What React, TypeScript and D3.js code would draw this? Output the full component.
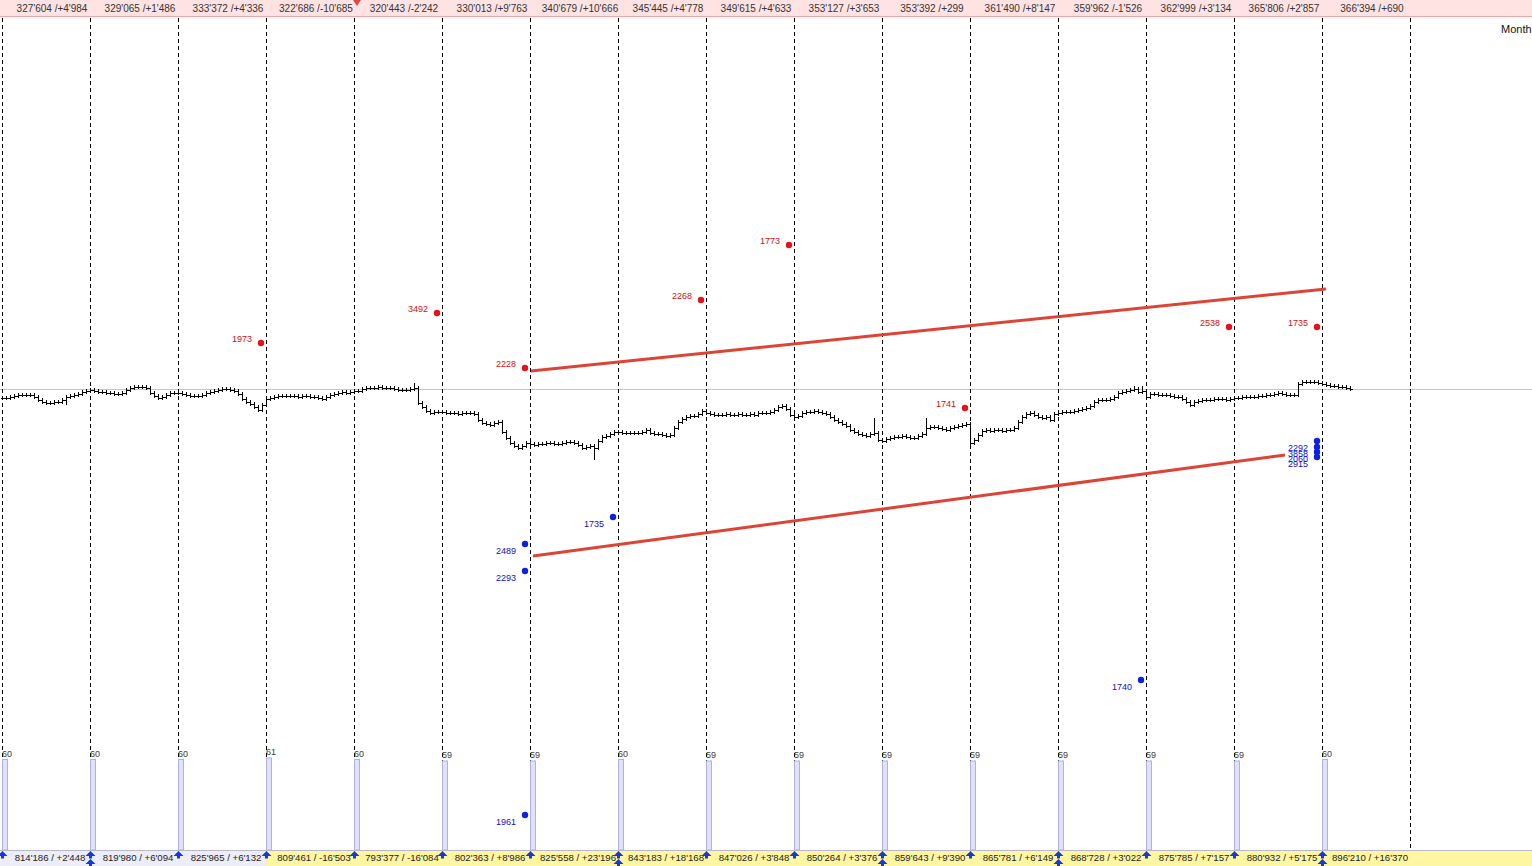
import React from "react";
import * as d3 from "d3";

const W = 1532;
const H = 866;

// Monthly header (top) labels
const topLabels = [
  "327'604 /+4'984", "329'065 /+1'486", "333'372 /+4'336", "322'686 /-10'685",
  "320'443 /-2'242", "330'013 /+9'763", "340'679 /+10'666", "345'445 /+4'778",
  "349'615 /+4'633", "353'127 /+3'653", "353'392 /+299", "361'490 /+8'147",
  "359'962 /-1'526", "362'999 /+3'134", "365'806 /+2'857", "366'394 /+690",
];

// Monthly footer (bottom) labels
const bottomLabels = [
  "814'186 / +2'448", "819'980 / +6'094", "825'965 / +6'132", "809'461 / -16'503",
  "793'377 / -16'084", "802'363 / +8'986", "825'558 / +23'196", "843'183 / +18'168",
  "847'026 / +3'848", "850'264 / +3'376", "859'643 / +9'390", "865'781 / +6'149",
  "868'728 / +3'022", "875'785 / +7'157", "880'932 / +5'175", "896'210 / +16'370",
];
// footer background: first months neutral, rest highlighted
const bottomHighlight = [false, false, false, true, true, true, true, true, true, true, true, true, true, true, true, true];
// double arrows in footer per month boundary
const doubleArrow = [false, true, false, false, false, false, false, true, false, false, true, false, true, false, false, true];

// Monthly counts at each month start
const monthCounts = [60, 60, 60, 61, 60, 59, 59, 60, 59, 59, 59, 59, 59, 59, 59, 60];

// Daily closes, per month (22 sessions each)
const closesM00 = [491, 491, 492, 493, 494, 494, 494, 494, 492, 489, 487, 486, 486, 487, 487, 489, 492, 493, 494, 495, 497, 498];
const closesM01 = [499, 498, 497, 497, 496, 496, 495, 495, 496, 499, 501, 502, 502, 502, 501, 496, 493, 491, 492, 494, 496, 496];
const closesM02 = [496, 495, 494, 493, 493, 493, 494, 496, 497, 498, 499, 500, 500, 499, 498, 495, 490, 487, 485, 482, 479, 484];
const closesM03 = [490, 491, 492, 493, 493, 493, 493, 493, 492, 493, 493, 492, 492, 491, 490, 492, 494, 495, 496, 497, 496, 497];
const closesM04 = [498, 498, 500, 501, 501, 501, 502, 501, 501, 501, 500, 499, 499, 499, 500, 501, 486, 482, 478, 476, 477, 477];
const closesM05 = [477, 476, 476, 476, 475, 476, 476, 476, 475, 469, 466, 465, 464, 466, 467, 457, 451, 446, 443, 441, 443, 446];
const closesM06 = [445, 444, 445, 445, 446, 446, 445, 445, 446, 447, 447, 446, 444, 441, 442, 443, 441, 448, 452, 453, 455, 457];
const closesM07 = [457, 456, 456, 456, 456, 456, 457, 459, 456, 455, 455, 454, 453, 454, 461, 467, 470, 472, 473, 473, 475, 478];
const closesM08 = [476, 475, 474, 474, 474, 475, 474, 474, 475, 474, 474, 475, 474, 476, 476, 476, 477, 479, 482, 483, 480, 474];
const closesM09 = [472, 473, 476, 477, 477, 478, 477, 476, 475, 472, 469, 467, 465, 463, 459, 457, 455, 454, 453, 455, 456, 449];
const closesM10 = [448, 450, 451, 452, 452, 453, 452, 451, 451, 453, 455, 461, 462, 462, 461, 460, 459, 461, 462, 463, 464, 465];
const closesM11 = [446, 449, 454, 458, 459, 458, 459, 459, 458, 459, 459, 461, 467, 472, 475, 476, 474, 472, 471, 472, 469, 475];
const closesM12 = [476, 477, 477, 477, 478, 479, 480, 481, 483, 487, 489, 489, 489, 490, 492, 496, 497, 498, 499, 500, 497, 498];
const closesM13 = [492, 495, 495, 494, 494, 494, 493, 492, 492, 490, 487, 484, 487, 488, 489, 489, 489, 490, 490, 490, 489, 490];
const closesM14 = [491, 491, 492, 492, 492, 492, 493, 493, 494, 494, 495, 496, 495, 494, 494, 494, 505, 507, 507, 507, 507, 506];
const closesM15 = [505, 504, 503, 503, 502, 502, 501, 500];

const closes = [
  ...closesM00, ...closesM01, ...closesM02, ...closesM03, ...closesM04, ...closesM05,
  ...closesM06, ...closesM07, ...closesM08, ...closesM09, ...closesM10, ...closesM11,
  ...closesM12, ...closesM13, ...closesM14, ...closesM15,
];

// Wicks that extend beyond the open/close range
const spikeLows = [
  { t: 16, p: 484 }, { t: 148, p: 429 }, { t: 242, p: 443 },
];
const spikeHighs = [
  { t: 103, p: 506 }, { t: 218, p: 471 }, { t: 231, p: 471 }, { t: 283, p: 503 }, { t: 285, p: 503 },
];

const referenceLevel = 500;

// Marker dots: month index, level, count label
const redDots = [
  { month: 3, p: 546, label: "1973" },
  { month: 5, p: 576, label: "3492" },
  { month: 6, p: 521, label: "2228" },
  { month: 8, p: 589, label: "2268" },
  { month: 9, p: 644, label: "1773" },
  { month: 11, p: 481, label: "1741" },
  { month: 14, p: 562, label: "2538" },
  { month: 15, p: 562, label: "1735" },
];
const blueDots = [
  { month: 6, p: 345, label: "2489" },
  { month: 6, p: 318, label: "2293" },
  { month: 7, p: 372, label: "1735" },
  { month: 13, p: 209, label: "1740" },
  { month: 6, p: 74, label: "1961" },
  { month: 15, p: 448, label: "2292" },
  { month: 15, p: 442, label: "3858" },
  { month: 15, p: 437, label: "2060" },
  { month: 15, p: 432, label: "2915" },
];

// Trend lines (session index, level)
const trendUpper = [{ t: 132.25, p: 518 }, { t: 331, p: 600 }];
const trendLower = [{ t: 132.75, p: 333 }, { t: 320.75, p: 434 }];

const SESSIONS_PER_MONTH = 22;
const N_BOUNDARIES = 17;

export default function App() {
  const xScale = d3.scaleLinear().domain([0, SESSIONS_PER_MONTH * 16]).range([2, 1410]);
  const yScale = d3.scaleLinear().domain([23, 889]).range([866, 0]);
  const volScale = d3.scaleLinear().domain([0, 61]).range([850, 758]);

  const boundaries = d3.range(N_BOUNDARIES).map((k) => xScale(k * SESSIONS_PER_MONTH));

  // OHLC bars path
  const path = d3.path();
  const lowMap = new Map(spikeLows.map((d) => [d.t, d.p]));
  const highMap = new Map(spikeHighs.map((d) => [d.t, d.p]));
  closes.forEach((c, i) => {
    const o = i > 0 ? closes[i - 1] : c;
    let hi = Math.max(o, c) + 2;
    let lo = Math.min(o, c) - 2;
    if (highMap.has(i)) hi = Math.max(hi, highMap.get(i)!);
    if (lowMap.has(i)) lo = Math.min(lo, lowMap.get(i)!);
    const x = Math.round(xScale(i)) + 0.5;
    const yh = Math.round(yScale(hi));
    const yl = Math.round(yScale(lo));
    const yo = Math.round(yScale(o)) + 0.5;
    const yc = Math.round(yScale(c)) + 0.5;
    path.moveTo(x, yh);
    path.lineTo(x, yl);
    path.moveTo(x - 2, yo);
    path.lineTo(x, yo);
    path.moveTo(x, yc);
    path.lineTo(x + 2, yc);
  });

  const line = d3
    .line<{ t: number; p: number }>()
    .x((d) => xScale(d.t))
    .y((d) => yScale(d.p));

  const dotX = (m: number) => xScale(m * SESSIONS_PER_MONTH - 1.25);

  const arrow = (x: number, y: number, key: string) => (
    <path
      key={key}
      d={`M${x},${y} L${x + 5},${y + 5} L${x + 1.5},${y + 5} L${x + 1.5},${y + 7.5} L${x - 1.5},${y + 7.5} L${x - 1.5},${y + 5} L${x - 5},${y + 5} Z`}
      fill="#1538e0"
    />
  );

  const labelFont = "'Liberation Sans', Arial, sans-serif";

  return (
    <svg
      width={W}
      height={H}
      style={{ position: "absolute", left: 0, top: 0, background: "#fff" }}
      fontFamily={labelFont}
    >
      <rect x={0} y={0} width={W} height={H} fill="#ffffff" />

      {/* reference horizontal line */}
      <line x1={0} x2={W} y1={Math.round(yScale(referenceLevel)) + 0.5} y2={Math.round(yScale(referenceLevel)) + 0.5} stroke="#c4c4c4" strokeWidth={1} />

      {/* month boundaries */}
      {boundaries.map((bx, k) => (
        <line
          key={"b" + k}
          x1={Math.round(bx) + 0.5}
          x2={Math.round(bx) + 0.5}
          y1={18}
          y2={850}
          stroke="#000"
          strokeWidth={1}
          strokeDasharray="4,3"
        />
      ))}

      {/* monthly count bars */}
      {monthCounts.map((v, k) => {
        const bx = Math.round(boundaries[k]);
        return (
          <g key={"v" + k}>
            <rect x={bx + 0.5} y={volScale(v)} width={5} height={850 - volScale(v)} fill="#e2e2fa" stroke="#b0b0e6" strokeWidth={1} />
            <text x={bx} y={volScale(v) - 3} fontSize={9} fill="#3a3a3a">{v}</text>
          </g>
        );
      })}

      {/* price bars */}
      <path d={path.toString()} stroke="#000" strokeWidth={1} fill="none" shapeRendering="crispEdges" />

      {/* trend lines */}
      <path d={line(trendUpper)!} stroke="#dc4535" strokeWidth={3} fill="none" />
      <path d={line(trendLower)!} stroke="#dc4535" strokeWidth={3} fill="none" />

      {/* dots */}
      {redDots.map((d, i) => (
        <g key={"r" + i}>
          <circle cx={dotX(d.month)} cy={yScale(d.p)} r={3.2} fill="#e8101a" />
          <text x={dotX(d.month) - 9} y={yScale(d.p) - 1} fontSize={9} fill="#d41010" textAnchor="end">{d.label}</text>
        </g>
      ))}
      {blueDots.map((d, i) => (
        <g key={"bl" + i}>
          <circle cx={dotX(d.month)} cy={yScale(d.p)} r={3.2} fill="#1020e0" />
          <text x={dotX(d.month) - 9} y={yScale(d.p) + 9.5} fontSize={9} fill="#1010c8" textAnchor="end">{d.label}</text>
        </g>
      ))}

      {/* top header bar */}
      <rect x={0} y={0} width={W} height={17} fill="#ffe3e3" />
      <line x1={0} x2={W} y1={16.5} y2={16.5} stroke="#eaa8a8" strokeWidth={1} />
      {topLabels.map((s, k) => (
        <text key={"t" + k} x={boundaries[k] + 50} y={12} fontSize={10} fill="#333" textAnchor="middle">{s}</text>
      ))}
      <path d={`M${boundaries[4] - 1},0 L${boundaries[4] + 7},0 L${boundaries[4] + 3},6 Z`} fill="#e04848" />

      {/* footer bar */}
      {bottomLabels.map((s, k) => (
        <rect
          key={"fb" + k}
          x={k === 0 ? 0 : boundaries[k]}
          y={851}
          width={k === 0 ? boundaries[1] : boundaries[k + 1] - boundaries[k]}
          height={15}
          fill={bottomHighlight[k] ? "#fff6a2" : "#ecedf8"}
        />
      ))}
      <rect x={boundaries[16]} y={851} width={W - boundaries[16]} height={15} fill="#fff6a2" />
      <line x1={0} x2={W} y1={850.5} y2={850.5} stroke="#b8b8c8" strokeWidth={1} />
      {bottomLabels.map((s, k) => (
        <text key={"bt" + k} x={boundaries[k] + 48} y={861} fontSize={9.6} fill="#222" textAnchor="middle">{s}</text>
      ))}
      {boundaries.slice(0, 16).map((bx, k) => (
        <g key={"ar" + k}>
          {arrow(Math.round(bx) + 0.5, 851, "a" + k)}
          {doubleArrow[k] ? arrow(Math.round(bx) + 0.5, 859, "a2" + k) : null}
        </g>
      ))}

      <text x={1501} y={33} fontSize={11} fill="#111">Month</text>
    </svg>
  );
}
